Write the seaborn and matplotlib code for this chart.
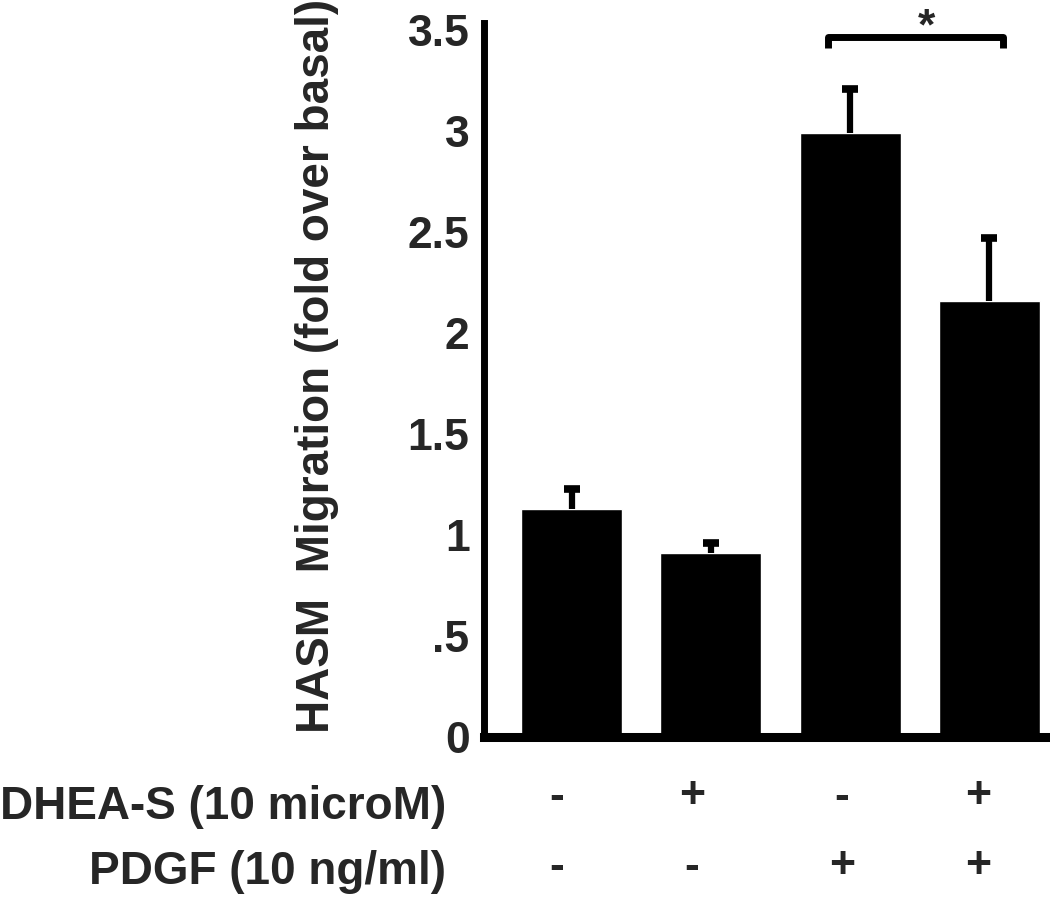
import matplotlib
matplotlib.use("Agg")
import matplotlib.pyplot as plt
import matplotlib.transforms as mtransforms
import numpy as np
import pandas as pd
import seaborn as sns

# values
conditions = ["basal", "DHEA-S", "PDGF", "PDGF + DHEA-S"]
migration = [1.13, 0.91, 2.99, 2.16]
sem = [0.10, 0.05, 0.22, 0.31]
dhea_signs = ["-", "+", "-", "+"]
pdgf_signs = ["-", "-", "+", "+"]
yticks = [0, 0.5, 1, 1.5, 2, 2.5, 3, 3.5]
ytick_labels = ["0", ".5", "1", "1.5", "2", "2.5", "3", "3.5"]


def main():
    sns.set_style("white")
    plt.rcParams['font.family'] = ['Liberation Sans', 'DejaVu Sans']
    plt.rcParams['font.weight'] = 'bold'

    df = pd.DataFrame({"condition": conditions, "migration": migration})

    fig = plt.figure(figsize=(10.5, 9.01), dpi=100)
    W, H = 1050, 901
    ax = fig.add_axes([483.5 / W, (H - 737) / H, (W - 483.5) / W, (737 - 23) / H])

    sns.barplot(data=df, x="condition", y="migration", color="black",
                saturation=1, width=0.725, errorbar=None, ax=ax)

    # upper error bars only (no cap at the bar top)
    xs = np.arange(len(conditions))
    tops = np.array(migration) + np.array(sem)
    ax.errorbar(xs, migration, yerr=[np.zeros(len(sem)), sem], fmt="none",
                ecolor="black", elinewidth=4.5, capsize=0)
    ax.plot(xs, tops, ls="none", marker="_", color="black",
            markersize=12, markeredgewidth=5.5)

    ax.set_xlim(-0.632, 3.435)
    ax.set_ylim(0, 3.535)
    ax.set_yticks(yticks)
    ax.set_yticklabels(ytick_labels, fontsize=32, fontweight="bold")
    ax.set_xticks([])
    ax.set_xlabel("")
    ax.tick_params(axis="y", length=0, pad=10)

    for side in ["top", "right"]:
        ax.spines[side].set_visible(False)
    ax.spines["left"].set_linewidth(5)
    ax.spines["bottom"].set_linewidth(6.5)
    ax.spines["left"].set_color("black")
    ax.spines["bottom"].set_color("black")

    ax.set_ylabel("HASM  Migration (fold over basal)", fontsize=33, fontweight="bold")
    ax.yaxis.set_label_coords((339 - 483.5) / (W - 483.5), 0.52)

    # significance bracket
    ax.plot([1.84, 1.84, 3.10, 3.10], [3.41, 3.468, 3.468, 3.41],
            color="black", lw=5, clip_on=False, solid_capstyle="butt")
    ax.text(2.55, 3.455, "*", fontsize=32, fontweight="bold",
            ha="center", va="baseline", clip_on=False)

    # treatment table under the bars
    sign_shift = [-0.11, -0.135, -0.06, -0.08]
    trans = mtransforms.blended_transform_factory(ax.transData, fig.transFigure)
    rows = [("DHEA-S (10 microM)", dhea_signs, 807, 797),
            ("PDGF (10 ng/ml)", pdgf_signs, 872, 867)]
    for label, signs, ypix, ysign in rows:
        fig.text(446 / W, 1 - ypix / H, label, fontsize=33, fontweight="bold",
                 ha="right", va="center")
        for x, dx, s in zip(xs, sign_shift, signs):
            ax.text(x + dx, 1 - ysign / H, s, transform=trans, fontsize=32,
                    fontweight="bold", ha="center", va="center")

    fig.savefig("out.png", dpi=100)
    plt.close(fig)


if __name__ == "__main__":
    main()
